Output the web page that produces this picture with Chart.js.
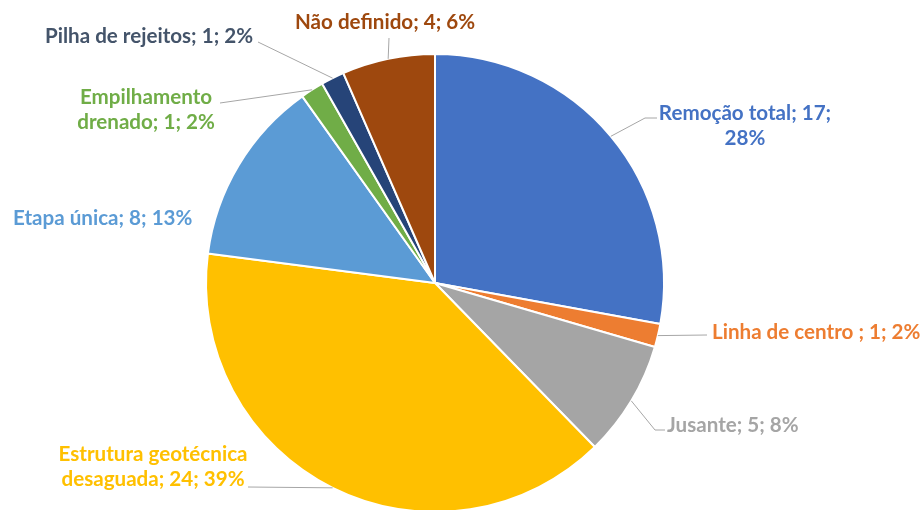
<!DOCTYPE html>
<html>
<head>
  <meta charset="utf-8">
  <title>Pie</title>
  <script src="https://cdn.jsdelivr.net/npm/chart.js"></script>
  <style>
    html, body { margin: 0; padding: 0; background: #fff; overflow: hidden; }
    .chart-box { width: 924px; height: 566px; }
  </style>
</head>
<body>
  <div class="chart-box"><canvas id="pieChart"></canvas></div>
  <script>
    // categories and values
    const categories = ['Remoção total', 'Linha de centro ', 'Jusante', 'Estrutura geotécnica desaguada',
      'Etapa única', 'Empilhamento drenado', 'Pilha de rejeitos', 'Não definido'];
    const counts = [17, 1, 5, 24, 8, 1, 1, 4];
    const percents = [28, 2, 8, 39, 13, 2, 2, 6];

    const sliceColors = ['#4472C4', '#ED7D31', '#A5A5A5', '#FFC000', '#5B9BD5', '#70AD47', '#264478', '#9E480E'];
    const textColors = ['#4472C4', '#ED7D31', '#A5A5A5', '#FFC000', '#5B9BD5', '#70AD47', '#44546A', '#9E480E'];

    // label layout: text lines, anchor, alignment, leader path (elbows after the arc point)
    const labelLayout = [
      { lines: ['Remoção total; 17;', '28%'], x: 745, y: 113, align: 'center', path: [[645, 118], [657, 118]] },
      { lines: ['Linha de centro ; 1; 2%'], x: 712, y: 332, align: 'left', path: [[707, 335]] },
      { lines: ['Jusante; 5; 8%'], x: 667, y: 425, align: 'left', path: [[655, 430], [665, 430]] },
      { lines: ['Estrutura geotécnica', 'desaguada; 24; 39%'], x: 153, y: 454, align: 'center', path: [[248, 487]] },
      { lines: ['Etapa única; 8; 13%'], x: 13, y: 218, align: 'left', path: null },
      { lines: ['Empilhamento', 'drenado; 1; 2%'], x: 146, y: 97, align: 'center', path: [[220, 103]] },
      { lines: ['Pilha de rejeitos; 1; 2%'], x: 45, y: 36, align: 'left', path: [[258, 42]] },
      { lines: ['Não definido; 4; 6%'], x: 295, y: 22, align: 'left', path: [[389, 38]] }
    ];

    const labelPlugin = {
      id: 'outLabels',
      afterDraw(chart) {
        const ctx = chart.ctx;
        const arcs = chart.getDatasetMeta(0).data;
        ctx.save();
        arcs.forEach((arc, i) => {
          const lay = labelLayout[i];
          const p = arc.getProps(['x', 'y', 'startAngle', 'endAngle', 'outerRadius'], true);
          const mid = (p.startAngle + p.endAngle) / 2;
          if (lay.path) {
            ctx.beginPath();
            ctx.strokeStyle = '#A6A6A6';
            ctx.lineWidth = 1;
            ctx.moveTo(p.x + Math.cos(mid) * p.outerRadius, p.y + Math.sin(mid) * p.outerRadius);
            lay.path.forEach(pt => ctx.lineTo(pt[0], pt[1]));
            ctx.stroke();
          }
          ctx.font = 'bold 20.6px Lato';
          ctx.fillStyle = textColors[i];
          ctx.textAlign = lay.align;
          ctx.textBaseline = 'middle';
          lay.lines.forEach((t, k) => ctx.fillText(t, lay.x, lay.y + k * 25));
        });
        ctx.restore();
      }
    };

    new Chart(document.getElementById('pieChart'), {
      type: 'pie',
      data: {
        labels: categories,
        datasets: [{
          data: counts,
          backgroundColor: sliceColors,
          borderColor: '#ffffff',
          borderWidth: 2
        }]
      },
      options: {
        responsive: true,
        maintainAspectRatio: false,
        animation: false,
        layout: { padding: { top: 53, bottom: 53, left: 205, right: 259 } },
        plugins: {
          legend: { display: false },
          tooltip: { enabled: false }
        }
      },
      plugins: [labelPlugin]
    });
  </script>
</body>
</html>
